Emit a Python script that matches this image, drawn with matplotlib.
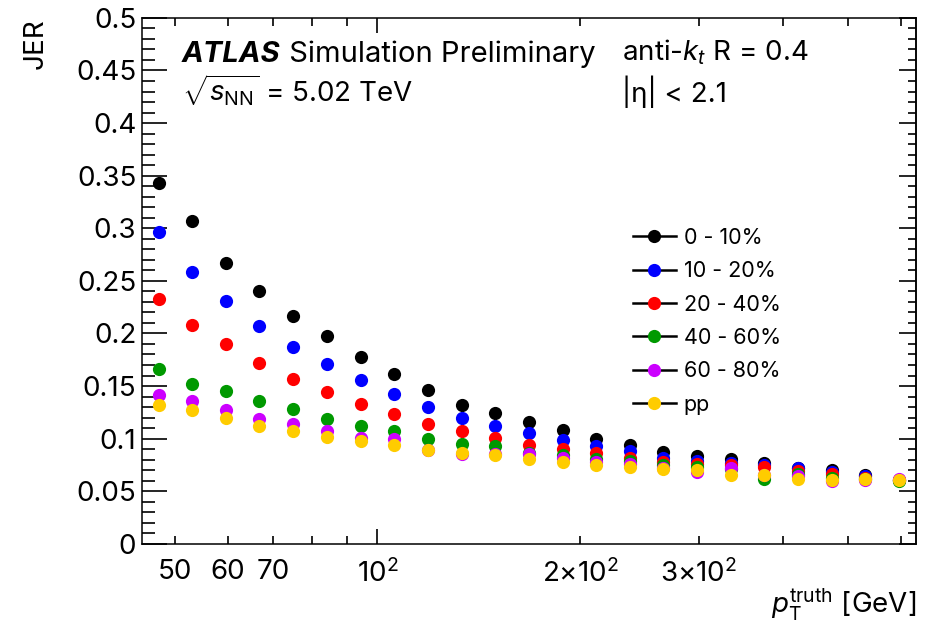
import matplotlib
matplotlib.use("Agg")
import matplotlib.pyplot as plt
from matplotlib.lines import Line2D
from matplotlib.ticker import MultipleLocator, FixedLocator

plt.rcParams['font.family'] = ['Inter', 'Liberation Sans', 'DejaVu Sans']
plt.rcParams['mathtext.fontset'] = 'custom'
plt.rcParams['mathtext.rm'] = 'Inter'
plt.rcParams['mathtext.it'] = 'Inter:italic'
plt.rcParams['mathtext.bf'] = 'Inter:bold'

# ====== DATA =============================
pt = [47.3, 53.1, 59.6, 66.8, 75.0, 84.1, 94.4, 105.9, 118.9, 133.4, 149.6, 167.9,
      188.4, 211.3, 237.1, 266.1, 298.5, 335.0, 375.8, 421.7, 473.2, 530.9, 595.7]

jer_0_10 = [0.343, 0.307, 0.267, 0.240, 0.217, 0.198, 0.178, 0.161, 0.146, 0.132, 0.124, 0.116,
            0.108, 0.100, 0.094, 0.087, 0.083, 0.081, 0.077, 0.072, 0.070, 0.065, 0.061]
jer_10_20 = [0.296, 0.258, 0.231, 0.207, 0.187, 0.171, 0.156, 0.142, 0.130, 0.120, 0.112, 0.105,
             0.099, 0.093, 0.088, 0.082, 0.079, 0.077, 0.075, 0.072, 0.068, 0.064, 0.061]
jer_20_40 = [0.233, 0.208, 0.190, 0.172, 0.157, 0.144, 0.133, 0.123, 0.114, 0.107, 0.101, 0.094,
             0.090, 0.086, 0.082, 0.078, 0.076, 0.075, 0.073, 0.069, 0.066, 0.063, 0.061]
jer_40_60 = [0.166, 0.152, 0.145, 0.136, 0.128, 0.119, 0.112, 0.107, 0.100, 0.095, 0.093, 0.086,
             0.084, 0.081, 0.079, 0.075, 0.073, 0.071, 0.062, 0.066, 0.063, 0.062, 0.060]
jer_60_80 = [0.141, 0.136, 0.127, 0.119, 0.114, 0.107, 0.101, 0.100, 0.089, 0.085, 0.085, 0.085,
             0.082, 0.078, 0.076, 0.072, 0.068, 0.072, 0.065, 0.064, 0.060, 0.061, 0.062]
jer_pp = [0.132, 0.127, 0.120, 0.112, 0.107, 0.102, 0.098, 0.094, 0.089, 0.086, 0.084, 0.081,
          0.078, 0.075, 0.073, 0.071, 0.070, 0.065, 0.065, 0.062, 0.061, 0.062, 0.061]

labels = ["0 - 10%", "10 - 20%", "20 - 40%", "40 - 60%", "60 - 80%", "pp"]
colors = ["#000000", "#0000ff", "#ff0000", "#009900", "#cc00ff", "#ffcc00"]
series = [jer_0_10, jer_10_20, jer_20_40, jer_40_60, jer_60_80, jer_pp]

# ====== PLOT =======
fig = plt.figure(figsize=(9.27, 6.39), dpi=100)
ax = fig.add_axes([0.153, 0.149, 0.835, 0.823])

for vals, c in zip(series, colors):
    ax.plot(pt, vals, 'o', color=c, markersize=9.5, markeredgewidth=0)

ax.set_xscale('log')
ax.set_xlim(44.67, 631.0)
ax.set_ylim(0, 0.5)

# x ticks: ROOT style, labels on some minor ticks
ax.xaxis.set_major_locator(FixedLocator([100]))
ax.set_xticklabels([r'$10^{2}$'])
minor_x = [50, 60, 70, 80, 90, 200, 300, 400, 500, 600]
minor_lbl = ['50', '60', '70', '', '', r'$2{\times}10^{2}$', r'$3{\times}10^{2}$', '', '', '']
ax.xaxis.set_minor_locator(FixedLocator(minor_x))
ax.set_xticklabels(minor_lbl, minor=True)

ax.yaxis.set_minor_locator(MultipleLocator(0.01))
ax.set_yticks([i * 0.05 for i in range(11)])
ax.set_yticklabels([f"{i * 0.05:g}" for i in range(11)])

ax.tick_params(axis='both', which='both', direction='in', labelsize=20, width=1.2)
ax.tick_params(axis='x', which='both', top=True, pad=11)
ax.tick_params(axis='x', which='major', length=10.5)
ax.tick_params(axis='x', which='minor', length=5.5)
ax.tick_params(axis='y', which='both', right=False, pad=4)
ax.tick_params(axis='y', which='major', length=18)
ax.tick_params(axis='y', which='minor', length=9.5)

sec = ax.secondary_yaxis('right')
sec.yaxis.set_major_locator(MultipleLocator(0.05))
sec.yaxis.set_minor_locator(MultipleLocator(0.01))
sec.tick_params(which='both', direction='in', labelright=False, width=1.2)
sec.tick_params(which='major', length=12)
sec.tick_params(which='minor', length=6)
sec.spines['right'].set_linewidth(1.1)

for s in ax.spines.values():
    s.set_linewidth(1.1)

ax.set_xlabel(r'$p_{\mathrm{T}}^{\mathrm{truth}}$ [GeV]', fontsize=20, ha='right')
ax.xaxis.set_label_coords(1.0, -0.08)
ax.set_ylabel('JER', fontsize=20, ha='right')
ax.yaxis.set_label_coords(-0.12, 1.0)

# ====== LABELS =======
t1 = ax.text(0.052, 0.904, 'ATLAS', transform=ax.transAxes, fontsize=21,
             fontweight='bold', fontstyle='italic', va='bottom')
ax.annotate(' Simulation Preliminary', xy=(1, 0), xycoords=t1, fontsize=21, va='bottom')
ax.text(0.052, 0.828, r'$\sqrt{s_{\mathrm{NN}}}$ = 5.02 TeV', transform=ax.transAxes,
        fontsize=20, va='bottom')
ax.text(0.62, 0.906, r'anti-$k_{t}$ R = 0.4', transform=ax.transAxes, fontsize=20, va='bottom')
ax.text(0.62, 0.828, '|η| < 2.1', transform=ax.transAxes, fontsize=20, va='bottom')

handles = [Line2D([], [], color='black', lw=1.8, marker='o', markersize=9.5,
                  markerfacecolor=c, markeredgewidth=0) for c in colors]
ax.legend(handles, labels, loc='upper left', bbox_to_anchor=(0.623, 0.617),
          frameon=False, fontsize=15.5, handlelength=2.0, handletextpad=0.37,
          labelspacing=0.62, borderaxespad=0)

plt.savefig('out.png', dpi=100)
